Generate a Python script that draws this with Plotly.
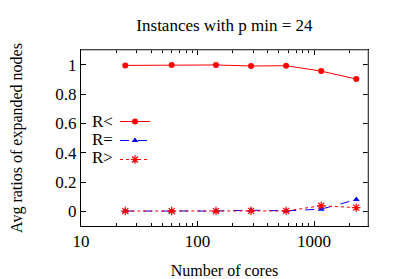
import plotly.graph_objects as go

cores = [24, 60, 144, 288, 576, 1152, 2304]
r_less = [0.995, 0.997, 0.998, 0.991, 0.993, 0.956, 0.902]
r_equal = [0.002, 0.002, 0.002, 0.008, 0.003, 0.015, 0.080]
r_greater = [0.002, 0.002, 0.002, 0.003, 0.003, 0.038, 0.025]
series_names = ["R<", "R=", "R>"]
y_ticks = [0, 0.2, 0.4, 0.6, 0.8, 1]
y_tick_text = ["0", "0.2", "0.4", "0.6", "0.8", "1"]
x_ticks = [10, 100, 1000]

FONT = "Liberation Serif"
L, R, T, B = 81, 368, 50, 226
PW, PH = R - L, B - T

fig = go.Figure()
fig.add_trace(go.Scatter(x=cores, y=r_less, mode="lines+markers", name=" ",
                         line=dict(color="#ff0000", width=1),
                         marker=dict(symbol="circle", size=6, color="#ff0000")))
fig.add_trace(go.Scatter(x=cores, y=r_equal, mode="lines+markers", name=" ",
                         line=dict(color="#0000ff", width=1, dash="dash"),
                         marker=dict(symbol="triangle-up", size=6, color="#0000ff")))
fig.add_trace(go.Scatter(x=cores, y=r_greater, mode="lines+markers", name=" ",
                         line=dict(color="#ff0000", width=1, dash="dot"),
                         marker=dict(symbol="asterisk-open", size=7,
                                     line=dict(color="#ff2020", width=1.2))))

# legend labels (gnuplot-style: text to the left of the sample)
leg_y = [121, 139, 157]
for name, py in zip(series_names, leg_y):
    fig.add_annotation(text=name, xref="paper", yref="paper",
                       x=(90 - L) / PW, y=(B - py) / PH,
                       xanchor="left", yanchor="middle", showarrow=False,
                       font=dict(family=FONT, size=17, color="black"))

# gray top/right frame
fig.add_shape(type="line", xref="paper", yref="paper", x0=0, x1=1, y0=1, y1=1,
              line=dict(color="#888888", width=1))
fig.add_shape(type="line", xref="paper", yref="paper", x0=1, x1=1, y0=0, y1=1,
              line=dict(color="#888888", width=1))

fig.update_layout(
    width=399, height=279,
    margin=dict(l=L, r=399 - R, t=T, b=279 - B, autoexpand=False),
    paper_bgcolor="white", plot_bgcolor="white",
    font=dict(family=FONT, size=16, color="black"),
    title=dict(text="Instances with p min = 24", x=(L + PW / 2) / 399,
               xanchor="center", y=1 - 25 / 279, yanchor="middle",
               font=dict(family=FONT, size=17)),
    showlegend=True,
    legend=dict(x=(115 - L) / PW, y=(B - 107) / PH, xanchor="left", yanchor="top",
                bgcolor="rgba(0,0,0,0)", font=dict(family=FONT, size=10),
                tracegroupgap=0, itemwidth=30),
)
fig.update_xaxes(type="log", range=[1, 3.463], tickvals=x_ticks,
                 ticktext=["10", "100", "1000"], automargin=False,
                 ticks="inside", ticklen=5, tickcolor="black", showgrid=False,
                 showline=True, linecolor="black", linewidth=1, mirror="ticks",
                 zeroline=False,
                 minor=dict(ticks="inside", ticklen=3, dtick="D1", tickcolor="black", showgrid=False),
                 title=dict(text="Number of cores", font=dict(family=FONT, size=16), standoff=14),
                 tickfont=dict(family=FONT, size=17))
fig.update_yaxes(range=[-0.1, 1.1], tickvals=y_ticks, ticktext=y_tick_text,
                 automargin=False,
                 ticks="inside", ticklen=5, tickcolor="black", showgrid=False,
                 showline=True, linecolor="black", linewidth=1, mirror="ticks",
                 zeroline=False,
                 title=dict(text="Avg ratios of expanded nodes", font=dict(family=FONT, size=16), standoff=28),
                 tickfont=dict(family=FONT, size=17))

fig.write_html("out.html", config={"displayModeBar": False},
               post_script="document.body.style.margin='0';document.body.style.padding='0';")
